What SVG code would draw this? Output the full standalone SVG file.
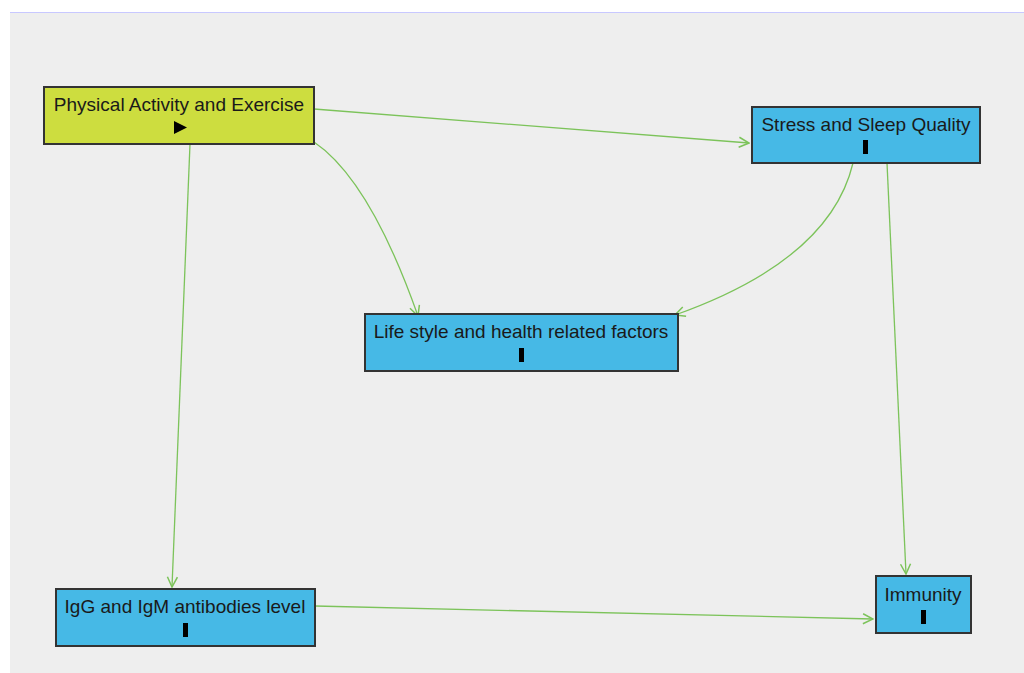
<svg xmlns="http://www.w3.org/2000/svg" width="1024" height="673" viewBox="0 0 1024 673">
<style>
.bg{fill:#eeeeee}
.box{stroke:#333333;stroke-width:2}
.exp .box{fill:#cddd3f}
.out .box{fill:#46b9e6}
.bar{fill:#000000;stroke:none}
.node text{font-family:"Liberation Sans",Arial,sans-serif;font-size:19px;fill:#1a1a1a;text-anchor:middle}
.edge{fill:none;stroke:#7cc35a;stroke-width:1.3;marker-end:url(#arr)}
</style>
<defs>
<marker id="arr" viewBox="0 0 12 12" refX="11" refY="6" markerWidth="12" markerHeight="12" markerUnits="userSpaceOnUse" orient="auto">
<path d="M1,1 L11,6 L1,11" fill="none" stroke="#7cc35a" stroke-width="1.5"/>
</marker>
</defs>
<rect x="0" y="0" width="1024" height="673" fill="#ffffff"/>
<rect class="bg" x="10" y="12" width="1014" height="661"/>
<line x1="10" y1="12.5" x2="1024" y2="12.5" stroke="#c8c8ff" stroke-width="1"/>
<g id="connectors">
<path class="edge" d="M314,109 L749,143"/>
<path class="edge" d="M314,142 Q370,180 418,316"/>
<path class="edge" d="M190,144 L172,587"/>
<path class="edge" d="M853,163 Q830,260 675,315"/>
<path class="edge" d="M887,163 L906,574"/>
<path class="edge" d="M315,606 L873,619"/>
</g>
<g id="physical-activity" class="node exp">
<rect class="box" x="44" y="87" width="270" height="57"/>
<text x="179" y="111">Physical Activity and Exercise</text>
<path d="M174,121 L187,127.5 L174,134 Z" fill="#000000"/>
</g>
<g id="stress-sleep" class="node out">
<rect class="box" x="752" y="107" width="228" height="56"/>
<text x="866" y="131">Stress and Sleep Quality</text>
<rect class="bar" x="863" y="140" width="5" height="14"/>
</g>
<g id="lifestyle" class="node out">
<rect class="box" x="365" y="314" width="313" height="57"/>
<text x="521" y="338">Life style and health related factors</text>
<rect class="bar" x="519" y="348" width="5" height="14"/>
</g>
<g id="igg-igm" class="node out">
<rect class="box" x="56" y="589" width="259" height="57"/>
<text x="185" y="613">IgG and IgM antibodies level</text>
<rect class="bar" x="183" y="623" width="5" height="14"/>
</g>
<g id="immunity" class="node out">
<rect class="box" x="876" y="576" width="95" height="57"/>
<text x="923" y="601">Immunity</text>
<rect class="bar" x="921" y="610" width="5" height="14"/>
</g>
</svg>
